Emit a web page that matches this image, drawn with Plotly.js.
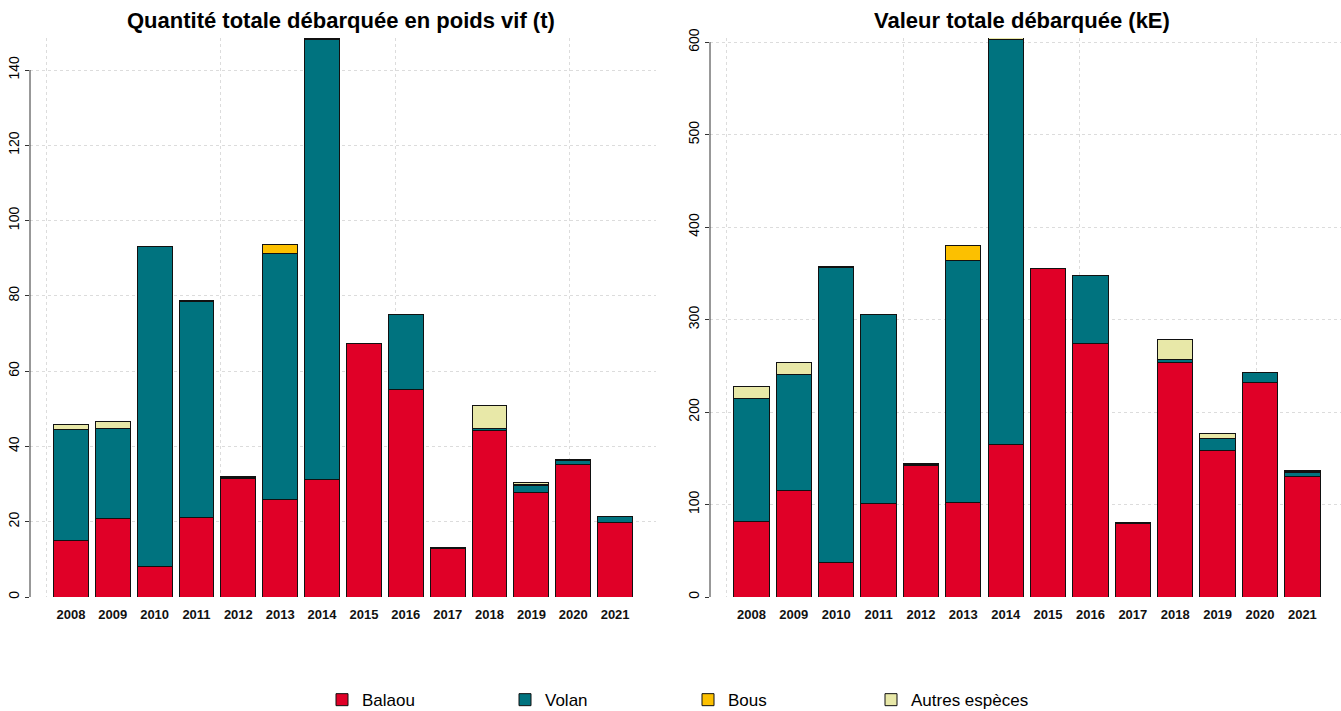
<!DOCTYPE html>
<html>
<head>
<meta charset="utf-8">
<script src="https://cdn.plot.ly/plotly-3.0.1.min.js"></script>
<style>html,body{margin:0;padding:0;background:#fff;}#chart{width:1341px;height:711px;}</style>
</head>
<body>
<div id="chart"></div>
<script>
// ---- Data ----
const years = ["2008","2009","2010","2011","2012","2013","2014","2015","2016","2017","2018","2019","2020","2021"];
const seriesNames = ["Balaou","Volan","Bous","Autres espèces"];
const seriesColors = ["#E00027","#00737F","#FCC000","#E8E8A8"];

// Quantité totale débarquée en poids vif (t)
const qtyBalaou = [14.9, 20.9, 8.2, 21.1, 31.6, 26.0, 31.1, 67.4, 55.1, 12.8, 44.3, 27.7, 35.2, 19.7];
const qtyVolan  = [29.6, 23.9, 84.8, 57.4, 0.2, 65.3, 117.1, 0, 20.0, 0.2, 0.5, 2.0, 1.1, 1.6];
const qtyBous   = [0, 0, 0, 0.2, 0, 2.3, 0.2, 0, 0, 0, 0, 0.1, 0, 0];
const qtyAutres = [1.4, 1.7, 0.1, 0, 0.1, 0, 0, 0, 0, 0.1, 6.0, 0.6, 0.1, 0];

// Valeur totale débarquée (kE)
const valBalaou = [81.8, 115.5, 37.5, 101.4, 142.5, 102.1, 165.4, 355.3, 274.6, 79.3, 254.0, 158.9, 232.4, 130.1];
const valVolan  = [133.4, 124.8, 319.0, 203.8, 0.8, 261.9, 437.8, 0, 73.2, 0.8, 3.3, 13.0, 10.1, 5.0];
const valBous   = [0, 0, 0, 0, 0, 15.8, 0, 0, 0, 0, 0, 0, 0, 1.1];
const valAutres = [12.2, 13.0, 1.0, 0.5, 1.0, 0, 1.8, 0, 0, 0.9, 21.7, 5.1, 0.7, 0.8];

// bar centres on R barplot scale (width 1, space 0.2)
const xpos = years.map((_, i) => 0.7 + 1.2 * i);

const qtySeries = [qtyBalaou, qtyVolan, qtyBous, qtyAutres];
const valSeries = [valBalaou, valVolan, valBous, valAutres];

const traces = [];
qtySeries.forEach((vals, k) => {
  traces.push({
    type: "bar", x: xpos, y: vals, name: seriesNames[k], legendgroup: seriesNames[k],
    xaxis: "x", yaxis: "y", width: 1,
    marker: {color: seriesColors[k], line: {color: "#111", width: 1}},
    hoverinfo: "y+name"
  });
});
valSeries.forEach((vals, k) => {
  traces.push({
    type: "bar", x: xpos, y: vals, name: seriesNames[k], legendgroup: seriesNames[k], showlegend: false,
    xaxis: "x2", yaxis: "y2", width: 1,
    marker: {color: seriesColors[k], line: {color: "#111", width: 1}},
    hoverinfo: "y+name"
  });
});

const gridCol = "#DCDCDC";
const tickFont = {family: "Liberation Sans, Arial, sans-serif", size: 14, color: "#000"};

function xAxis(domain, rangeMax) {
  return {
    domain: domain, range: [-0.472, rangeMax], showgrid: false, zeroline: false, showline: false,
    tickmode: "array", tickvals: xpos, ticktext: years, ticks: "",
    tickfont: {family: "Liberation Sans, Arial, sans-serif", size: 13, color: "#111", weight: 600},
    ticklabelstandoff: 8,
    minor: {tickmode: "array", tickvals: [0, 5, 10, 15], showgrid: true, gridcolor: gridCol, griddash: "dot", gridwidth: 1, ticks: ""},
    fixedrange: true
  };
}
function yAxis(domain, range, dtick) {
  return {
    domain: domain, range: range, showgrid: true, gridcolor: gridCol, griddash: "dot", gridwidth: 1,
    zeroline: false, showline: false, tickmode: "linear", tick0: 0, dtick: dtick,
    ticks: "outside", ticklen: 4, tickcolor: "#333", tickwidth: 1, tickangle: -90,
    tickfont: tickFont, fixedrange: true
  };
}

const yDom = [1 - 597/711, 1 - 38/711];
const layout = {
  width: 1341, height: 711,
  margin: {l: 0, r: 0, t: 0, b: 0, pad: 0, autoexpand: false},
  paper_bgcolor: "#fff", plot_bgcolor: "#fff",
  barmode: "stack", bargap: 0,
  font: {family: "Liberation Sans, Arial, sans-serif", color: "#000"},
  xaxis: xAxis([30/1341, 656/1341], 17.472),
  yaxis: yAxis(yDom, [0, 148.5], 20),
  xaxis2: Object.assign(xAxis([710/1341, 1], (1341 - 727) / 35.3), {anchor: "y2"}),
  yaxis2: Object.assign(yAxis(yDom, [0, 604.5], 100), {anchor: "x2"}),
  showlegend: true,
  legend: {
    orientation: "h", x: 322/1341, xanchor: "left", y: -0.010, yanchor: "bottom",
    font: {size: 17, family: "Liberation Sans, Arial, sans-serif", color: "#000"},
    entrywidth: 138, entrywidthmode: "pixels", itemclick: false, itemdoubleclick: false,
    traceorder: "normal"
  },
  shapes: [
    {type: "line", xref: "x domain", yref: "y", x0: 0, x1: 0, y0: 0, y1: 140, line: {color: "#333", width: 1}},
    {type: "line", xref: "x2 domain", yref: "y2", x0: 0, x1: 0, y0: 0, y1: 600, line: {color: "#333", width: 1}}
  ],
  annotations: [
    {text: "<b>Quantité totale débarquée en poids vif (t)</b>", xref: "paper", yref: "paper",
     x: 341/1341, y: 1 - 21/711, xanchor: "center", yanchor: "middle", showarrow: false,
     font: {size: 22, family: "Liberation Sans, Arial, sans-serif", color: "#000"}},
    {text: "<b>Valeur totale débarquée (kE)</b>", xref: "paper", yref: "paper",
     x: 1022/1341, y: 1 - 21/711, xanchor: "center", yanchor: "middle", showarrow: false,
     font: {size: 22, family: "Liberation Sans, Arial, sans-serif", color: "#000"}}
  ]
};

Plotly.newPlot("chart", traces, layout, {staticPlot: true, displayModeBar: false});
</script>
</body>
</html>
